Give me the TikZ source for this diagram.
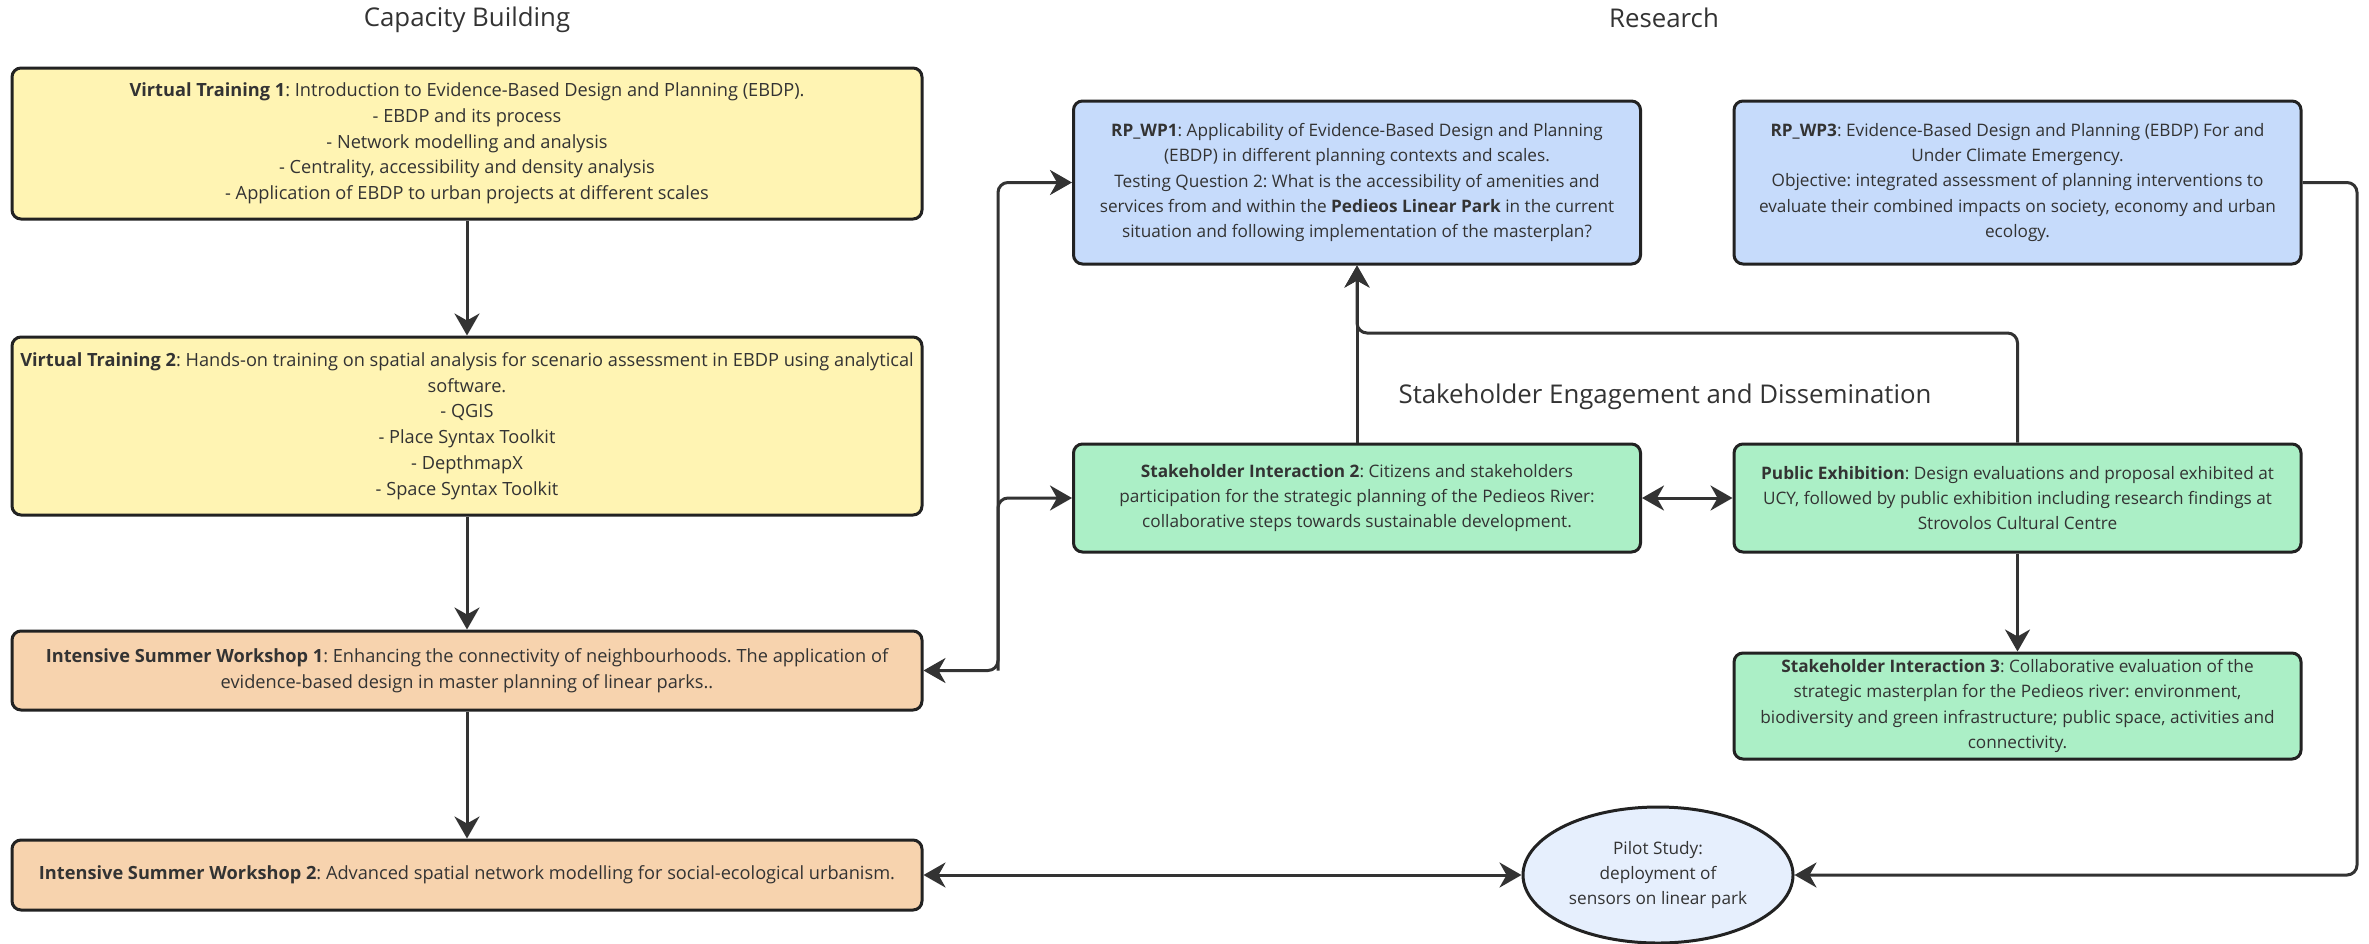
\documentclass[tikz,border=0pt]{standalone}
\usepackage{fontspec}
\setmainfont{Open Sans}
\usetikzlibrary{arrows.meta,shapes.geometric}
\definecolor{cyellow}{HTML}{FFF4B3}
\definecolor{cpeach}{HTML}{F7D3AE}
\definecolor{cblue}{HTML}{C6DBFB}
\definecolor{cgreen}{HTML}{ABEFC6}
\definecolor{cpale}{HTML}{E6EFFD}
\definecolor{cline}{HTML}{333333}
\definecolor{cborder}{HTML}{222222}
\definecolor{ctext}{HTML}{333333}
\tikzset{
  box/.style={draw=cborder, line width=1.5pt, rounded corners=4.5pt, align=center,
    text=ctext, inner sep=2pt, font=\fontsize{8.6}{12.7}\selectfont\frenchspacing},
  leftbox/.style={box, minimum width=455pt, font=\fontsize{9.1}{12.85}\selectfont\frenchspacing},
  rightbox/.style={box, minimum width=283.5pt},
  title/.style={text=ctext, font=\fontsize{12.9}{15}\selectfont},
  tip/.tip={Stealth[length=11pt,width=12.5pt,inset=3.5pt]},
  conn/.style={draw=cline, line width=1.5pt, rounded corners=5pt},
  arr/.style={conn, -tip},
  darr/.style={conn, tip-tip},
}
\begin{document}
\frenchspacing
\begin{tikzpicture}[x=0.5pt,y=-0.5pt]
\useasboundingbox (0,0) rectangle (2369,943);
\fill[white] (0,0) rectangle (2369,943);

\node[title] (tcap) at (467,20) {Capacity Building};
\node[title] (tres) at (1664,18) {Research};
\node[title] (tsed) at (1665,397) {Stakeholder Engagement and Dissemination};

\node[leftbox, fill=cyellow, minimum height=75.5pt] (vt1) at (467,143.5) {\textbf{Virtual Training 1}: Introduction to Evidence-Based Design and Planning (EBDP).\\- EBDP and its process\\- Network modelling and analysis\\- Centrality, accessibility and density analysis\\- Application of EBDP to urban projects at different scales};

\node[leftbox, fill=cyellow, minimum height=89pt] (vt2) at (467,426) {\textbf{Virtual Training 2}: Hands-on training on spatial analysis for scenario assessment in EBDP using analytical\\software.\\- QGIS\\- Place Syntax Toolkit\\- DepthmapX\\- Space Syntax Toolkit};

\node[leftbox, fill=cpeach, minimum height=39.5pt] (isw1) at (467,670.5) {\textbf{Intensive Summer Workshop 1}: Enhancing the connectivity of neighbourhoods. The application of\\evidence-based design in master planning of linear parks..};

\node[leftbox, fill=cpeach, minimum height=35pt] (isw2) at (467,875) {\textbf{Intensive Summer Workshop 2}: Advanced spatial network modelling for social-ecological urbanism.};

\node[rightbox, fill=cblue, minimum height=81.5pt] (rp1) at (1357,182.5) {\textbf{RP\_WP1}: Applicability of Evidence-Based Design and Planning\\(EBDP) in different planning contexts and scales.\\Testing Question 2: What is the accessibility of amenities and\\services from and within the \textbf{Pedieos Linear Park} in the current\\situation and following implementation of the masterplan?};

\node[rightbox, fill=cblue, minimum height=81.5pt] (rp3) at (2017.5,182.5) {\textbf{RP\_WP3}: Evidence-Based Design and Planning (EBDP) For and\\Under Climate Emergency.\\Objective: integrated assessment of planning interventions to\\evaluate their combined impacts on society, economy and urban\\ecology.};

\node[rightbox, fill=cgreen, minimum height=54pt] (si2) at (1357,498) {\textbf{Stakeholder Interaction 2}: Citizens and stakeholders\\participation for the strategic planning of the Pedieos River:\\collaborative steps towards sustainable development.};

\node[rightbox, fill=cgreen, minimum height=54pt] (pe) at (2017.5,498) {\textbf{Public Exhibition}: Design evaluations and proposal exhibited at\\UCY, followed by public exhibition including research findings at\\Strovolos Cultural Centre};

\node[rightbox, fill=cgreen, minimum height=53pt] (si3) at (2017.5,706) {\textbf{Stakeholder Interaction 3}: Collaborative evaluation of the\\strategic masterplan for the Pedieos river: environment,\\biodiversity and green infrastructure; public space, activities and\\connectivity.};

\node[ellipse, draw=cborder, line width=1.5pt, fill=cpale, text=ctext, align=center,
  minimum width=135pt, minimum height=68pt, inner sep=0pt,
  font=\fontsize{8.6}{12.7}\selectfont\frenchspacing] (pilot) at (1658,875) {Pilot Study:\\deployment of\\sensors on linear park};

\coordinate (jx) at (998,670.5);
\coordinate (j2) at (1357,333);
\coordinate (j3) at (2357,182.5);

\draw[arr] (vt1) -- (vt2);
\draw[arr] (vt2) -- (isw1);
\draw[arr] (isw1) -- (isw2);
\draw[darr] (isw1.east) -- (jx) |- (rp1.west);
\draw[arr] (jx) |- (si2.west);
\draw[darr] (si2.east) -- (pe.west);
\draw[arr] (si2.north) -- (rp1.south);
\draw[arr] (pe.north) |- (j2) -- (rp1.south);
\draw[arr] (pe.south) -- (si3.north);
\draw[arr] (rp3.east) -- (j3) |- (pilot.east);
\draw[darr] (isw2.east) -- (pilot.west);
\end{tikzpicture}
\end{document}
